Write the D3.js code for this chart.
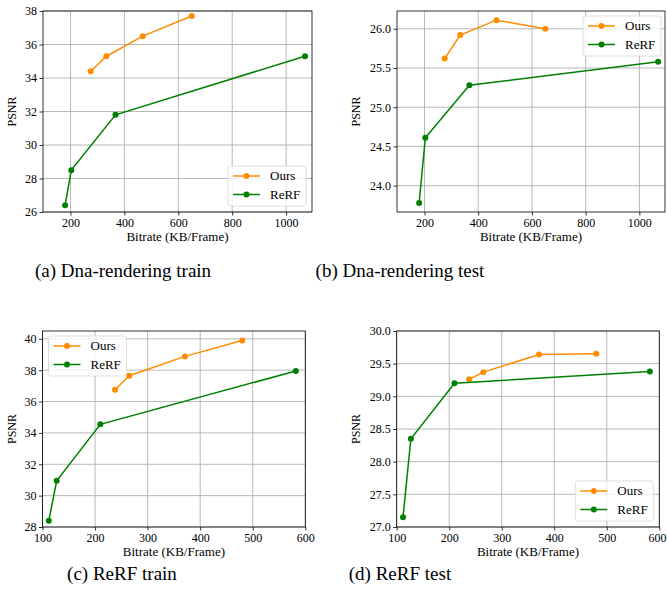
<!DOCTYPE html>
<html><head><meta charset="utf-8">
<script src="https://cdn.jsdelivr.net/npm/d3@7"></script>
<style>body{margin:0;background:#fff}svg{display:block;font-family:"Liberation Serif","Times New Roman",Times,serif}</style>
</head><body>
<svg id="c" width="667" height="597"></svg>
<script>
// Panel (a) Dna-rendering train
const aOursX = [275, 333, 468, 650];
const aOursY = [34.4, 35.3, 36.5, 37.7];
const aRerfX = [180, 203, 367, 1070];
const aRerfY = [26.4, 28.5, 31.8, 35.3];
// Panel (b) Dna-rendering test
const bOursX = [275, 333, 468, 650];
const bOursY = [25.62, 25.92, 26.11, 26.0];
const bRerfX = [180, 203, 367, 1070];
const bRerfY = [23.78, 24.61, 25.28, 25.58];
// Panel (c) ReRF train
const cOursX = [238, 265, 371, 480];
const cOursY = [36.75, 37.65, 38.88, 39.9];
const cRerfX = [112, 127, 210, 582];
const cRerfY = [28.4, 30.95, 34.55, 37.95];
// Panel (d) ReRF test
const dOursX = [238, 265, 371, 480];
const dOursY = [29.26, 29.37, 29.64, 29.65];
const dRerfX = [112, 127, 210, 582];
const dRerfY = [27.15, 28.35, 29.2, 29.38];

const xTicksAB = [200, 400, 600, 800, 1000];
const xTicksCD = [100, 200, 300, 400, 500, 600];
const yTicksA = [26, 28, 30, 32, 34, 36, 38];
const yTicksB = [24.0, 24.5, 25.0, 25.5, 26.0];
const yTicksC = [28, 30, 32, 34, 36, 38, 40];
const yTicksD = [27.0, 27.5, 28.0, 28.5, 29.0, 29.5, 30.0];

const seriesNames = ["Ours", "ReRF"];
const captions = ["(a) Dna-rendering train", "(b) Dna-rendering test", "(c) ReRF train", "(d) ReRF test"];
const xLabel = "Bitrate (KB/Frame)";
const yLabel = "PSNR";

const FONT = "'Liberation Serif','Times New Roman',Times,serif";
const colors = ["#ff8c00", "#008000"];
const svg = d3.select("#c");
const W = 667;

const panels = [
  {ours:[aOursX,aOursY], rerf:[aRerfX,aRerfY], xd:[98,1096], yd:[26,38], xt:xTicksAB, yt:yTicksA, yf:d3.format("d"),
   box:[43,11,312,212], legend:"br", cap:captions[0], capX:123, capY:277, ylOff:27},
  {ours:[bOursX,bOursY], rerf:[bRerfX,bRerfY], xd:[97.5,1095.5], yd:[23.664,26.227], xt:xTicksAB, yt:yTicksB, yf:d3.format(".1f"),
   box:[397,11,665,212], legend:"tr", cap:captions[1], capX:400, capY:277, ylOff:37},
  {ours:[cOursX,cOursY], rerf:[cRerfX,cRerfY], xd:[100,600], yd:[28,40.5], xt:xTicksCD, yt:yTicksC, yf:d3.format("d"),
   box:[42.5,331,305.3,527], legend:"tl", cap:captions[2], capX:122, capY:580, ylOff:27},
  {ours:[dOursX,dOursY], rerf:[dRerfX,dRerfY], xd:[100,600], yd:[27,30], xt:xTicksCD, yt:yTicksD, yf:d3.format(".1f"),
   box:[396.7,331,659.3,527], legend:"br", cap:captions[3], capX:400, capY:580, ylOff:37}
];

panels.forEach(p => {
  const [x0,y0,x1,y1] = p.box;
  const x = d3.scaleLinear().domain(p.xd).range([x0,x1]);
  const y = d3.scaleLinear().domain(p.yd).range([y1,y0]);
  const g = svg.append("g").attr("font-family",FONT);
  // grid
  g.append("g").selectAll("line").data(p.xt).join("line")
    .attr("x1",d=>x(d)).attr("x2",d=>x(d)).attr("y1",y0).attr("y2",y1)
    .attr("stroke","#b0b0b0").attr("stroke-width",0.9);
  g.append("g").selectAll("line").data(p.yt).join("line")
    .attr("y1",d=>y(d)).attr("y2",d=>y(d)).attr("x1",x0).attr("x2",x1)
    .attr("stroke","#b0b0b0").attr("stroke-width",0.9);
  // axes
  const ax = g.append("g").attr("transform",`translate(0,${y1})`)
    .call(d3.axisBottom(x).tickValues(p.xt).tickSize(3.5).tickPadding(2.5).tickFormat(d3.format("d")));
  const ay = g.append("g").attr("transform",`translate(${x0},0)`)
    .call(d3.axisLeft(y).tickValues(p.yt).tickSize(3.5).tickPadding(2.5).tickFormat(p.yf));
  [ax,ay].forEach(a=>{
    a.attr("font-family",FONT);
    a.select(".domain").remove();
    a.selectAll("line").attr("stroke","#000").attr("stroke-width",0.8);
    a.selectAll("text").attr("font-family",FONT).attr("font-size",12).attr("fill","#000");
  });
  // keep x tick labels inside the page
  ax.selectAll(".tick text").each(function(d){
    const bb = this.getBBox();
    const right = x(d) + bb.x + bb.width;
    if (right > W - 1) d3.select(this).attr("x", (W - 1) - right);
  });
  // series
  [[p.ours,colors[0]],[p.rerf,colors[1]]].forEach(([s,c])=>{
    const pts = s[0].map((v,i)=>[v,s[1][i]]);
    g.append("path").datum(pts).attr("fill","none").attr("stroke",c).attr("stroke-width",1.5)
      .attr("d",d3.line().x(d=>x(d[0])).y(d=>y(d[1])));
    g.append("g").selectAll("circle").data(pts).join("circle")
      .attr("cx",d=>x(d[0])).attr("cy",d=>y(d[1])).attr("r",3).attr("fill",c);
  });
  // frame
  g.append("rect").attr("x",x0).attr("y",y0).attr("width",x1-x0).attr("height",y1-y0)
    .attr("fill","none").attr("stroke","#000").attr("stroke-width",0.8);
  // legend
  const lw = 78, lh = 40;
  let lx, ly;
  if (p.legend==="br") { lx = x1-6-lw; ly = y1-6-lh; }
  else if (p.legend==="tr") { lx = x1-4-lw; ly = y0+5; }
  else { lx = x0+6; ly = y0+5; }
  const lg = g.append("g").attr("transform",`translate(${lx},${ly})`);
  lg.append("rect").attr("width",lw).attr("height",lh).attr("rx",2.5)
    .attr("fill","#fff").attr("fill-opacity",0.8).attr("stroke","#d5d5d5").attr("stroke-width",0.8);
  seriesNames.forEach((n,i)=>{
    const ry = 10 + i*18.5;
    lg.append("line").attr("x1",5).attr("x2",32).attr("y1",ry).attr("y2",ry).attr("stroke",colors[i]).attr("stroke-width",1.5);
    lg.append("circle").attr("cx",18.5).attr("cy",ry).attr("r",3).attr("fill",colors[i]);
    lg.append("text").attr("x",42).attr("y",ry+4.3).attr("font-size",13).text(n);
  });
  // axis labels
  g.append("text").attr("x",(x0+x1)/2).attr("y",y1+29).attr("text-anchor","middle").attr("font-size",13).text(xLabel);
  g.append("text").attr("transform",`translate(${x0-p.ylOff},${(y0+y1)/2}) rotate(-90)`).attr("text-anchor","middle").attr("font-size",12).text(yLabel);
  // caption
  svg.append("text").attr("font-family",FONT).attr("x",p.capX).attr("y",p.capY).attr("text-anchor","middle").attr("font-size",19).text(p.cap);
});
</script>
</body></html>
